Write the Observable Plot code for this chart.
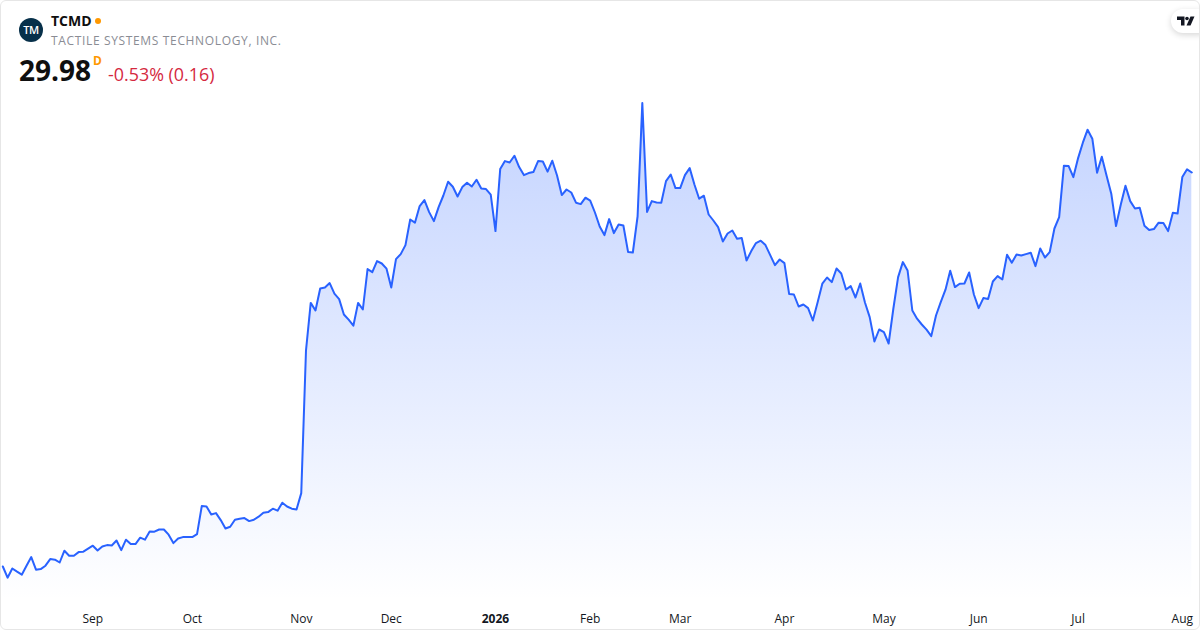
<!DOCTYPE html>
<html><head><meta charset="utf-8">
<script src="https://cdn.jsdelivr.net/npm/d3@7"></script>
<script src="https://cdn.jsdelivr.net/npm/@observablehq/plot@0.6"></script>
<style>
html,body{margin:0;padding:0;background:#fff;font-family:"Open Sans",sans-serif}
#card{position:relative;width:1200px;height:630px;overflow:hidden}
#frame{position:absolute;left:0;top:0;width:1198px;height:628px;border:1px solid #e6e6e6;border-radius:6px;pointer-events:none}
#chart{position:absolute;left:0;top:0}
#chart svg{display:block}
.t{position:absolute;white-space:nowrap;line-height:1}
#logo{position:absolute;left:19px;top:18px;width:24px;height:24px;border-radius:50%;background:#07304a;color:#fff;font-size:11px;font-weight:600;line-height:24px;text-align:center;letter-spacing:-.5px}
#dot{position:absolute;left:95px;top:18px;width:6px;height:6px;border-radius:50%;background:#ff9800}
#badge{position:absolute;left:1171px;top:9px;width:40px;height:24px;border-radius:12px;background:#fff;box-shadow:0 2px 6px rgba(0,0,0,.16)}
</style></head><body>
<div id="card">
<div id="chart"></div>
<div id="logo">TM</div>
<div class="t" style="left:51px;top:14px;font-size:14px;font-weight:700;color:#0f0f0f">TCMD</div>
<div id="dot"></div>
<div class="t" style="left:51px;top:35px;font-size:12px;color:#8a8c94;letter-spacing:.65px">TACTILE SYSTEMS TECHNOLOGY, INC.</div>
<div class="t" style="left:19px;top:56px;font-size:28px;font-weight:700;color:#0f0f0f">29.98</div>
<div class="t" style="left:93px;top:55px;font-size:12px;font-weight:700;color:#ff9800">D</div>
<div class="t" style="left:108px;top:66px;font-size:17.9px;color:#d5293f">-0.53% (0.16)</div>
<div id="badge"><svg width="18" height="10" viewBox="0 0 36 20" style="position:absolute;left:6px;top:7px"><path fill="#131722" d="M0 1h15v18H8V8H0z"/><circle cx="20" cy="5" r="3.6" fill="#131722"/><path fill="#131722" d="M27 1h8l-8 18h-8z"/></svg></div>
<div id="frame"></div>
</div>
<script>
const closes = [10.28,9.72,10.18,10.02,9.87,10.32,10.75,10.12,10.15,10.32,10.65,10.62,10.48,11.07,10.82,10.82,11.00,11.02,11.17,11.32,
11.08,11.28,11.35,11.33,11.58,11.10,11.62,11.40,11.40,11.72,11.62,12.03,12.02,12.13,12.13,11.87,11.45,11.68,11.75,11.75,
11.75,11.90,13.30,13.28,12.88,12.95,12.60,12.18,12.27,12.62,12.67,12.70,12.55,12.62,12.77,12.97,13.00,13.17,13.07,13.47,
13.28,13.17,13.13,13.95,21.08,23.46,23.08,24.18,24.23,24.45,23.92,23.65,22.88,22.62,22.32,23.46,23.13,25.15,25.00,25.55,
25.43,25.17,24.23,25.65,25.90,26.35,27.63,27.47,28.30,28.60,28.00,27.55,28.25,28.83,29.52,29.27,28.78,29.25,29.47,29.28,
29.62,29.18,29.15,28.87,27.05,30.15,30.55,30.48,30.82,30.25,29.85,29.95,30.00,30.55,30.53,30.02,30.57,29.83,28.85,29.13,
28.98,28.47,28.40,28.72,28.57,27.98,27.28,26.85,27.65,26.95,27.38,27.33,26.00,25.98,27.78,33.45,28.01,28.55,28.48,28.47,
29.55,29.88,29.20,29.20,29.85,30.20,29.38,28.67,28.82,27.88,27.58,27.25,26.53,26.93,27.08,26.67,26.70,25.58,26.05,26.45,
26.57,26.35,25.85,25.35,25.63,25.45,23.90,23.88,23.28,23.38,23.20,22.58,23.48,24.42,24.73,24.50,25.18,24.93,24.13,24.30,
23.73,24.43,23.48,22.75,21.53,22.13,22.00,21.43,23.18,24.75,25.50,25.08,23.08,22.67,22.38,22.12,21.80,22.83,23.50,24.12,
25.07,24.25,24.42,24.43,24.98,23.88,23.20,23.70,23.65,24.53,24.80,24.63,25.87,25.47,25.88,25.83,25.90,25.97,25.30,26.18,
25.73,26.00,27.18,27.75,30.32,30.30,29.75,30.70,31.47,32.12,31.67,29.97,30.77,29.83,28.92,27.30,28.37,29.32,28.55,28.18,
28.22,27.32,27.10,27.15,27.47,27.45,27.05,27.97,27.93,29.75,30.14,29.98];
const tickIdx = [19,40,63,82,104,124,143,165,186,206,227,249];
const tickLabels = ["Sep","Oct","Nov","Dec","2026","Feb","Mar","Apr","May","Jun","Jul","Aug"];
const rows = closes.map((close,i)=>({i,close}));
const ticks = tickIdx.map((i,k)=>({i,label:tickLabels[k]}));
const baseValue = 8.58;

const gradient = () => {
  const ns="http://www.w3.org/2000/svg";
  const defs=document.createElementNS(ns,"defs");
  defs.innerHTML='<linearGradient id="fade" x1="0" y1="0" x2="0" y2="1"><stop offset="0" stop-color="#2962ff" stop-opacity="0.28"/><stop offset="1" stop-color="#2962ff" stop-opacity="0"/></linearGradient>';
  return defs;
};
const labelMark = (data,weight) => Plot.text(data,{x:"i",text:"label",frameAnchor:"bottom",dy:-8,lineAnchor:"bottom",
  fontSize:12,fontWeight:weight,fill:"#131722"});

const chart = Plot.plot({
  width:1200,height:630,margin:0,
  style:{background:"transparent",fontFamily:"'Open Sans',sans-serif"},
  x:{domain:[0,251],range:[2.33,1191.3],axis:null},
  y:{domain:[baseValue,33.58],range:[600,100],axis:null},
  marks:[
    gradient,
    Plot.areaY(rows,{x:"i",y1:baseValue,y2:"close",fill:"url(#fade)"}),
    Plot.lineY(rows,{x:"i",y:"close",stroke:"#2962ff",strokeWidth:2,strokeLinejoin:"round"}),
    labelMark(ticks.filter(d=>d.label!=="2026"),400),
    labelMark(ticks.filter(d=>d.label==="2026"),700)
  ]
});
document.getElementById("chart").appendChild(chart);
</script>
</body></html>
